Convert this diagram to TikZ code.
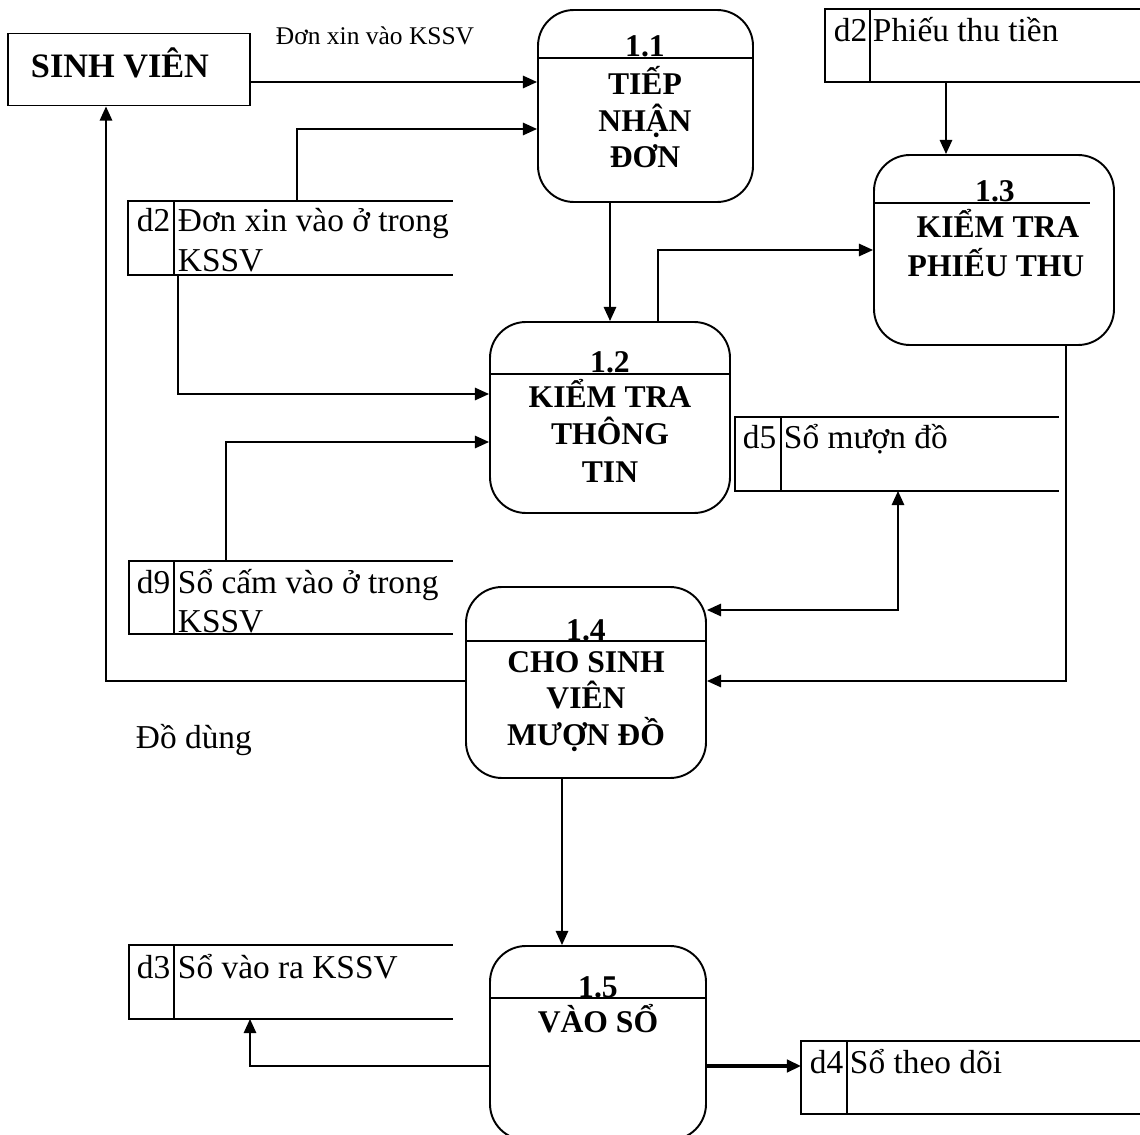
\documentclass[tikz,border=0pt]{standalone}
\usepackage{fontspec}
\setmainfont{Liberation Serif}
\usetikzlibrary{arrows.meta}
\begin{document}
\begin{tikzpicture}[x=0.02cm,y=-0.02cm,
  line width=1.1pt,
  arr/.style={-{Triangle[length=8pt,width=7pt]}},
  darr/.style={{Triangle[length=8pt,width=7pt]}-{Triangle[length=8pt,width=7pt]}},
  proc/.style={draw,rectangle,rounded corners=0.72cm,inner sep=0pt},
  store/.style={rectangle,inner sep=0pt,draw=none},
  ptxt/.style={anchor=base,inner sep=0pt,font=\fontsize{18}{20}\selectfont\bfseries},
  stxt/.style={anchor=base west,inner sep=0pt,font=\fontsize{19}{21}\selectfont},
  ext/.style={draw,rectangle,inner sep=0pt}
]
\useasboundingbox (0,0) rectangle (1140,1135);

% external entity
\node[ext,minimum width=242*0.02cm,minimum height=72*0.02cm] (sv) at (129,69.5) {};
\node[anchor=base,inner sep=0pt,font=\fontsize{19.5}{21}\selectfont\bfseries] (svt) at (120,78) {SINH VIÊN};

% processes
\node[proc,minimum width=215*0.02cm,minimum height=192*0.02cm] (p11) at (645.5,106) {};
\draw (p11.west |- 0,58) -- (p11.east |- 0,58);
\node[ptxt] (p11n) at (645,57) {1.1};
\node[ptxt] (p11a) at (645,95) {TIẾP};
\node[ptxt] (p11b) at (645,132) {NHẬN};
\node[ptxt] (p11c) at (645,168) {ĐƠN};

\node[proc,minimum width=240*0.02cm,minimum height=191*0.02cm] (p12) at (610,417.5) {};
\draw (p12.west |- 0,374) -- (p12.east |- 0,374);
\node[ptxt] (p12n) at (610,373) {1.2};
\node[ptxt] (p12a) at (610,407) {KIỂM TRA};
\node[ptxt] (p12b) at (610,444) {THÔNG};
\node[ptxt] (p12c) at (610,482) {TIN};

\node[proc,minimum width=240*0.02cm,minimum height=190*0.02cm] (p13) at (994,250) {};
\draw (p13.west |- 0,203) -- (1090,203);
\node[ptxt] (p13n) at (995,202) {1.3};
\node[ptxt] (p13a) at (998,238) {KIỂM TRA};
\node[ptxt] (p13b) at (996,277) {PHIẾU THU};

\node[proc,minimum width=240*0.02cm,minimum height=191*0.02cm] (p14) at (586,682.5) {};
\draw (p14.west |- 0,641) -- (p14.east |- 0,641);
\node[ptxt] (p14n) at (586,640) {1.4};
\node[ptxt] (p14a) at (586,672) {CHO SINH};
\node[ptxt] (p14b) at (586,708) {VIÊN};
\node[ptxt] (p14c) at (586,745) {MƯỢN ĐỒ};

\node[proc,minimum width=216*0.02cm,minimum height=194*0.02cm] (p15) at (598,1043) {};
\draw (p15.west |- 0,998) -- (p15.east |- 0,998);
\node[ptxt] (p15n) at (598,997) {1.5};
\node[ptxt] (p15a) at (598,1032) {VÀO SỔ};

% data stores
\node[store,minimum width=323*0.02cm,minimum height=72*0.02cm] (sA) at (290.5,238) {};
\draw (sA.north east) -- (sA.north west) -- (sA.south west) -- (sA.south east);
\draw (174,202) -- (174,274);
\node[stxt] (sAd) at (136,232) {d2};
\node[stxt] (sAt1) at (177,232) {Đơn xin vào ở trong};
\node[stxt] (sAt2) at (177,272) {KSSV};

\node[store,minimum width=314*0.02cm,minimum height=71*0.02cm] (sB) at (983,45.5) {};
\draw (sB.north east) -- (sB.north west) -- (sB.south west) -- (sB.south east);
\draw (870,10) -- (870,81);
\node[stxt] (sBd) at (833,42) {d2};
\node[stxt] (sBt) at (872,42) {Phiếu thu tiền};

\node[store,minimum width=322*0.02cm,minimum height=72*0.02cm] (sC) at (897,454) {};
\draw (sC.north east) -- (sC.north west) -- (sC.south west) -- (sC.south east);
\draw (781,418) -- (781,490);
\node[stxt] (sCd) at (742,448) {d5};
\node[stxt] (sCt) at (783,448) {Sổ mượn đồ};

\node[store,minimum width=322*0.02cm,minimum height=71*0.02cm] (sD) at (291,597.5) {};
\draw (sD.north east) -- (sD.north west) -- (sD.south west) -- (sD.south east);
\draw (174,562) -- (174,633);
\node[stxt] (sDd) at (136,593) {d9};
\node[stxt] (sDt1) at (177,593) {Sổ cấm vào ở trong};
\node[stxt] (sDt2) at (177,632) {KSSV};

\node[store,minimum width=322*0.02cm,minimum height=72*0.02cm] (sE) at (291,982) {};
\draw (sE.north east) -- (sE.north west) -- (sE.south west) -- (sE.south east);
\draw (174,946) -- (174,1018);
\node[stxt] (sEd) at (136,978) {d3};
\node[stxt] (sEt) at (177,978) {Sổ vào ra KSSV};

\node[store,minimum width=338*0.02cm,minimum height=71*0.02cm] (sF) at (971,1077.5) {};
\draw (sF.north east) -- (sF.north west) -- (sF.south west) -- (sF.south east);
\draw (847,1042) -- (847,1113);
\node[stxt] (sFd) at (809,1073) {d4};
\node[stxt] (sFt) at (849,1073) {Sổ theo dõi};

% labels
\node[anchor=base west,inner sep=0pt,font=\fontsize{14.5}{16}\selectfont] (l1) at (275,45) {Đơn xin vào KSSV};
\node[anchor=base west,inner sep=0pt,font=\fontsize{19}{21}\selectfont] (l2) at (135,748) {Đồ dùng};

% connectors
\draw[arr] (sv.east |- 0,82) -- (p11.west |- 0,82);
\draw[arr] (sA.north -| 297,0) |- (p11.west |- 0,129);
\draw[arr] (p11.south -| 610,0) -- (p12.north -| 610,0);
\draw[arr] (sA.south -| 178,0) |- (p12.west |- 0,394);
\draw[arr] (sD.north -| 226,0) |- (p12.west |- 0,442);
\draw[arr] (sB.south -| 946,0) -- (p13.north -| 946,0);
\draw[arr] (p12.north -| 658,0) |- (p13.west |- 0,250);
\draw[darr] (sC.south -| 898,0) |- (p14.east |- 0,610);
\draw[arr] (p13.south -| 1066,0) |- (p14.east |- 0,681);
\draw[arr] (p14.west |- 0,681) -| (sv.south -| 106,0);
\draw[arr] (p14.south -| 562,0) -- (p15.north -| 562,0);
\draw[arr] (p15.west |- 0,1066) -| (sE.south -| 250,0);
\draw[arr,line width=1.8pt] (p15.east |- 0,1066) -- (sF.west |- 0,1066);
\end{tikzpicture}
\end{document}
